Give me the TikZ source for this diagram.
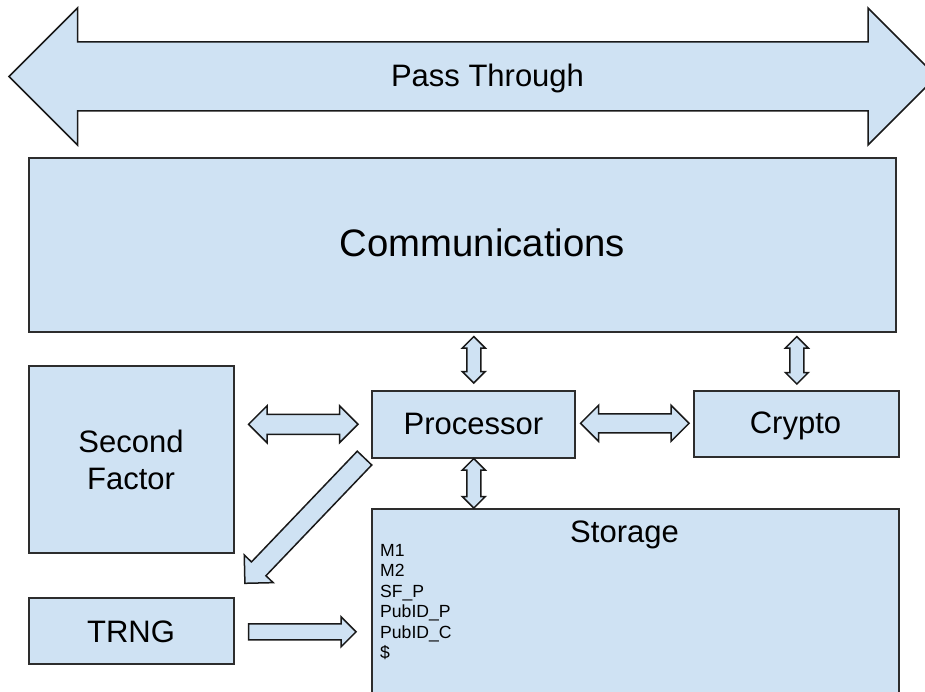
\documentclass[tikz,border=0pt]{standalone}
\usepackage{fontspec}
\setmainfont{Liberation Sans}
\usetikzlibrary{calc}
\definecolor{boxblue}{RGB}{207,226,243}
\definecolor{edgegray}{RGB}{45,45,45}

% Block arrow with one head: #1 tail, #2 tip, #3 half shaft width, #4 half head width (= head length)
\newcommand\fatsingle[4]{%
  \filldraw[fat] ($(#1)!#3!90:(#2)$)
    -- ($(#2)!#4!(#1)!#3!-90:(#1)$)
    -- ($(#2)!#4!(#1)!#4!-90:(#1)$)
    -- (#2)
    -- ($(#2)!#4!(#1)!#4!90:(#1)$)
    -- ($(#2)!#4!(#1)!#3!90:(#1)$)
    -- ($(#1)!#3!-90:(#2)$) -- cycle;}

% Block arrow with a head at both ends
\newcommand\fatdouble[4]{%
  \filldraw[fat] (#1)
    -- ($(#1)!#4!(#2)!#4!90:(#2)$)
    -- ($(#1)!#4!(#2)!#3!90:(#2)$)
    -- ($(#2)!#4!(#1)!#3!-90:(#1)$)
    -- ($(#2)!#4!(#1)!#4!-90:(#1)$)
    -- (#2)
    -- ($(#2)!#4!(#1)!#4!90:(#1)$)
    -- ($(#2)!#4!(#1)!#3!90:(#1)$)
    -- ($(#1)!#4!(#2)!#3!-90:(#2)$)
    -- ($(#1)!#4!(#2)!#4!-90:(#2)$)
    -- cycle;}

\begin{document}
\begin{tikzpicture}[x=1pt,y=-1pt,
  block/.style={draw=edgegray, fill=boxblue, line width=1.6pt, inner sep=0pt, anchor=north west},
  fat/.style={draw=black!90, fill=boxblue, line width=1.5pt, line join=miter},
  lbl/.style={inner sep=0pt, anchor=base, font=\fontsize{31}{37}\selectfont},
]
\useasboundingbox (0,0) rectangle (925,692);
\clip (0,0) rectangle (925,692);

% bus arrow across the top
\coordinate (busl) at (9,76.5);
\coordinate (busr) at (936.5,76.5);
\fatdouble{busl}{busr}{34.5pt}{68.5pt}

% blocks
\node[block, minimum width=867, minimum height=174] (comm) at (28,157) {};
\node[block, minimum width=205, minimum height=187] (sf) at (28,365) {};
\node[block, minimum width=205, minimum height=66] (trng) at (28,597) {};
\node[block, minimum width=203, minimum height=67] (proc) at (371,390) {};
\node[block, minimum width=205, minimum height=66] (crypto) at (693,390) {};
\node[block, minimum width=527, minimum height=200] (stor) at (371,508) {};

% connector end points
\coordinate (cpA) at ($(proc.north)+(0.5,-7)$);
\coordinate (cpB) at ($(comm.south -| cpA)+(0,4)$);
\coordinate (psA) at ($(proc.south)+(0.5,0)$);
\coordinate (psB) at (stor.north -| psA);
\coordinate (ccA) at ($(crypto.north)+(0.5,-6)$);
\coordinate (ccB) at ($(comm.south -| ccA)+(0,4)$);
\coordinate (pkA) at ($(proc.east)+(5,-1)$);
\coordinate (pkB) at ($(crypto.west |- pkA)+(-4,0)$);
\coordinate (spA) at ($(sf.east |- proc.east)+(14,0)$);
\coordinate (spB) at ($(proc.west)+(-13,0)$);
\coordinate (ptA) at ($(proc.south west)+(-6.5,-0.5)$);
\coordinate (ptB) at ($(trng.north east)+(10.3,-13.7)$);
\coordinate (tsA) at ($(trng.east)+(14,1)$);
\coordinate (tsB) at ($(stor.west |- tsA)+(-15,0)$);

% connectors
\fatdouble{cpA}{cpB}{7pt}{11.5pt}
\fatdouble{psA}{psB}{7pt}{11.5pt}
\fatdouble{ccA}{ccB}{7pt}{11.5pt}
\fatdouble{pkA}{pkB}{9.5pt}{18pt}
\fatdouble{spA}{spB}{10pt}{18.5pt}
\fatsingle{ptA}{ptB}{10pt}{20pt}
\fatsingle{tsA}{tsB}{8pt}{15pt}

% labels (multi-line nodes: base anchor sits on the last line)
\node[lbl] (passtxt) at (487.5,87) {Pass Through};
\node[lbl, font=\fontsize{38.3}{44}\selectfont] (commtxt) at (482.5,257) {Communications};
\node[lbl] (proctxt) at (473.5,434) {Processor};
\node[lbl] (cryptotxt) at (795.5,433) {Crypto};
\node[lbl] (stortxt) at (624.5,542) {Storage};
\node[lbl] (trngtxt) at (131,642) {TRNG};
\node[lbl, align=center] (sftxt) at (131,489) {Second\\Factor};
\node[inner sep=0pt, anchor=base west, align=left, font=\fontsize{17.6}{20.5}\selectfont]
  (storlist) at (380,658.5) {M1\\M2\\SF\_P\\PubID\_P\\PubID\_C\\\$};
\end{tikzpicture}
\end{document}
